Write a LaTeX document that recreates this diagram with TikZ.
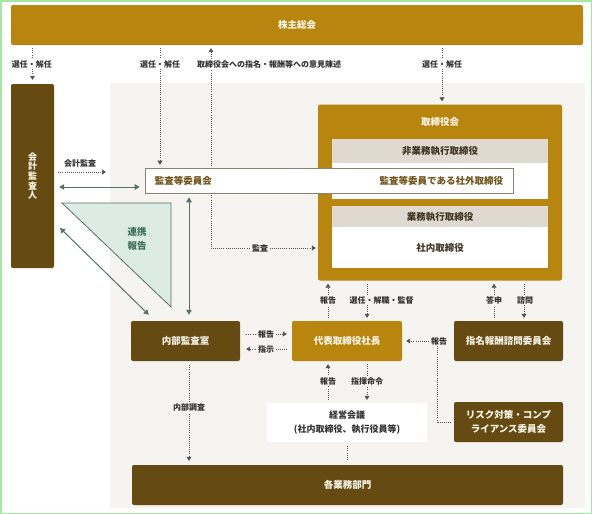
\documentclass[tikz,border=0pt]{standalone}
\usepackage{fontspec}
\setmainfont{Noto Sans CJK JP}
\usepackage{xcolor}
\usetikzlibrary{arrows.meta, positioning, calc}

\definecolor{gold}{HTML}{B8860F}
\definecolor{darkbrown}{HTML}{654B12}
\definecolor{bggray}{HTML}{F5F4F1}
\definecolor{hdrgray}{HTML}{DFD9CF}
\definecolor{hdrtxt}{HTML}{3F3524}
\definecolor{txtbrown}{HTML}{6E5419}
\definecolor{boxline}{HTML}{8C8272}
\definecolor{slate}{HTML}{5A6F67}
\definecolor{tealfill}{HTML}{DCEBE4}
\definecolor{tealtxt}{HTML}{3E6F5D}
\definecolor{lblgray}{HTML}{333333}
\definecolor{dotgray}{HTML}{555555}
\definecolor{cream}{HTML}{FBF6EA}
\definecolor{framegreen}{HTML}{A4E6A4}

\newcommand{\boxfnt}{\bfseries\fontsize{9.5}{11}\selectfont}
\newcommand{\lblfnt}{\bfseries\fontsize{8}{9}\selectfont}

\tikzset{
    goldbox/.style={rectangle, fill=gold, text=cream, rounded corners=2pt, inner sep=0pt, font=\boxfnt},
    brownbox/.style={rectangle, fill=darkbrown, text=cream, rounded corners=2pt, inner sep=0pt, font=\boxfnt},
    hdrbox/.style={rectangle, fill=hdrgray, text=hdrtxt, inner sep=0pt, font=\boxfnt},
    bodybox/.style={rectangle, fill=white, text=hdrtxt, inner sep=0pt, font=\boxfnt},
    dotline/.style={draw=dotgray, line width=0.8pt, dash pattern=on 0.8pt off 1.3pt},
    dotarrow/.style={dotline, -{Triangle[width=5pt,length=4pt]}},
    linkarrow/.style={draw=slate, line width=1pt, {Triangle[width=5.5pt,length=5pt]}-{Triangle[width=5.5pt,length=5pt]}},
    lbl/.style={font=\lblfnt, text=lblgray, inner sep=1.5pt, fill=bggray}
}

\begin{document}
\begin{tikzpicture}[x=1pt, y=-1pt]
    \useasboundingbox (0,0) rectangle (592,514);
    % Hintergrund
    \fill[bggray] (110,83) rectangle (585,508);
    \draw[framegreen, line width=1.5pt] (0.75,0.75) rectangle (591.25,513.25);

    % Hilfskoordinaten
    \coordinate (senx) at (160,0);
    \coordinate (ikenx) at (211,0);
    \coordinate (kansay) at (0,248);
    \coordinate (torix) at (442,0);
    \coordinate (kaikeiy) at (0,172);
    \coordinate (kaikeiend) at (106,172);
    \coordinate (linky) at (0,187);
    \coordinate (diagA) at (60,228);
    \coordinate (naibux) at (189,0);
    \coordinate (hokokuy) at (0,334);
    \coordinate (shijiy) at (0,349);
    \coordinate (upx) at (328,0);
    \coordinate (downx) at (367,0);
    \coordinate (toshinx) at (494,0);
    \coordinate (shimonx) at (524,0);

    % Kaestchen
    \node[goldbox, minimum width=572pt, minimum height=40pt] (soukai) at (297,25) {株主総会};
    \node[brownbox, minimum width=43pt, minimum height=184pt, align=center,
          font=\bfseries\fontsize{9}{9.6}\selectfont] (kaikei) at (32.5,176) {会\\計\\監\\査\\人};

    \node[goldbox, minimum width=244pt, minimum height=176pt] (torishimari) at (440,192.5) {};
    \node[text=cream, font=\boxfnt] (torititle) at (440,122) {取締役会};
    \node[hdrbox, minimum width=216pt, minimum height=24pt] (hikohdr) at (440,151) {非業務執行取締役};
    \node[bodybox, minimum width=216pt, minimum height=36pt] (hikobody) at (440,181) {};
    \node[hdrbox, minimum width=216pt, minimum height=21pt] (gyomuhdr) at (440,216.5) {業務執行取締役};
    \node[bodybox, minimum width=216pt, minimum height=41pt] (gyomubody) at (440,247.5) {社内取締役};

    \node[draw=boxline, fill=white, line width=0.6pt, minimum width=368pt, minimum height=25pt, inner sep=0pt] (kansaiin) at (329,180.5) {};
    \node[anchor=west, text=txtbrown, font=\boxfnt, inner sep=0pt] (kansaiintxt) at ([xshift=10pt]kansaiin.west) {監査等委員会};
    \node[anchor=east, text=txtbrown, font=\boxfnt, inner sep=0pt] (shagai) at ([xshift=-10pt]kansaiin.east) {監査等委員である社外取締役};

    % Dreieck
    \filldraw[draw=slate, fill=tealfill, line width=0.8pt] (62,203) -- (171,203) -- (171,307) -- cycle;
    \node[text=tealtxt, align=center, font=\bfseries\fontsize{9.5}{14}\selectfont] (renkei) at (137,239) {連携\\報告};

    \node[brownbox, minimum width=109pt, minimum height=40pt] (naibu) at (185.5,341) {内部監査室};
    \node[goldbox, minimum width=110pt, minimum height=40pt] (daihyo) at (347,341) {代表取締役社長};
    \node[brownbox, minimum width=109pt, minimum height=40pt] (shimei) at (508.5,341) {指名報酬諮問委員会};
    \node[brownbox, minimum width=109pt, minimum height=40pt, align=center,
          font=\bfseries\fontsize{9.5}{14}\selectfont] (risk) at (508.5,422) {リスク対策・コンプ\\ライアンス委員会};
    \node[bodybox, minimum width=160pt, minimum height=39pt, align=center, text=lblgray,
          font=\bfseries\fontsize{9}{14}\selectfont] (keiei) at (347,422.5) {経営会議\\(社内取締役、執行役員等)};
    \node[brownbox, minimum width=431pt, minimum height=40pt] (kakubu) at (347.5,485) {各業務部門};

    % Verbindungen oben
    \draw[dotarrow, shorten <=3pt, shorten >=4pt] (soukai.south -| kaikei.north) -- (kaikei.north);
    \draw[dotarrow, shorten <=3pt, shorten >=3pt] (soukai.south -| senx) -- (kansaiin.north -| senx);
    \draw[dotarrow, shorten <=2pt, shorten >=3pt] (kansaiin.north -| ikenx) -- (soukai.south -| ikenx);
    \draw[dotarrow, shorten <=3pt, shorten >=3pt] (soukai.south -| torix) -- (torishimari.north -| torix);
    \draw[dotarrow, shorten <=2pt, shorten >=2pt] (kansaiin.south -| ikenx) |- (torishimari.west |- kansay);
    \node[lbl, fill=white] (sennin1) at (32,64) {選任・解任};
    \node[lbl, fill=white] (sennin2) at (160,64) {選任・解任};
    \node[lbl, fill=white] (iken) at (269,64) {取締役会への指名・報酬等への意見陳述};
    \node[lbl, fill=white] (sennin3) at (442,64) {選任・解任};
    \node[lbl] (kansa) at (260,248) {監査};

    % Verbindungen links
    \draw[dotarrow, shorten <=4pt] (kaikei.east |- kaikeiy) -- (kaikeiend);
    \node[lbl, fill=none] (kaikeikansa) at (80,163) {会計監査};
    \draw[linkarrow, shorten <=5pt, shorten >=5pt] (kaikei.east |- linky) -- (kansaiin.west |- linky);
    \draw[linkarrow] (diagA) -- ([shift={(18pt,6pt)}]naibu.north west);
    \draw[linkarrow, shorten <=4pt, shorten >=6pt] (kansaiin.south -| naibux) -- (naibu.north -| naibux);

    % Verbindungen Mitte
    \draw[dotarrow, shorten <=6pt, shorten >=5pt] (naibu.east |- hokokuy) -- (daihyo.west |- hokokuy);
    \draw[dotarrow, shorten <=5pt, shorten >=6pt] (daihyo.west |- shijiy) -- (naibu.east |- shijiy);
    \node[lbl] (hokoku1) at (266,334) {報告};
    \node[lbl] (shiji) at (266,349) {指示};

    \draw[dotarrow, shorten <=3pt, shorten >=3pt] (daihyo.north -| upx) -- (torishimari.south -| upx);
    \draw[dotarrow, shorten <=3pt, shorten >=3pt] (torishimari.south -| downx) -- (daihyo.north -| downx);
    \node[lbl] (hokoku2) at (328,300) {報告};
    \node[lbl, anchor=west] (kantoku) at (348,300) {選任・解職・監督};

    \draw[dotarrow, shorten <=3pt, shorten >=3pt] (shimei.north -| toshinx) -- (torishimari.south -| toshinx);
    \draw[dotarrow, shorten <=3pt, shorten >=3pt] (torishimari.south -| shimonx) -- (shimei.north -| shimonx);
    \node[lbl] (toshin) at (494,300) {答申};
    \node[lbl] (shimon) at (525,300) {諮問};

    \draw[dotarrow, shorten <=3pt, shorten >=4pt] (risk.west) -- ++(-16,0) |- (daihyo.east);
    \node[lbl] (hokoku3) at (439,341) {報告};

    % Verbindungen unten
    \draw[dotarrow, shorten <=3pt, shorten >=3pt] (keiei.north -| upx) -- (daihyo.south -| upx);
    \draw[dotarrow, shorten <=3pt, shorten >=3pt] (daihyo.south -| downx) -- (keiei.north -| downx);
    \node[lbl] (hokoku4) at (328,381) {報告};
    \node[lbl] (shiki) at (367,381) {指揮命令};

    \draw[dotline, shorten <=4pt, shorten >=4pt] (keiei.south) -- (kakubu.north -| keiei.south);
    \draw[dotarrow, shorten <=4pt, shorten >=4pt] (naibu.south -| naibux) -- (kakubu.north -| naibux);
    \node[lbl] (chosa) at (189,407) {内部調査};
\end{tikzpicture}
\end{document}
